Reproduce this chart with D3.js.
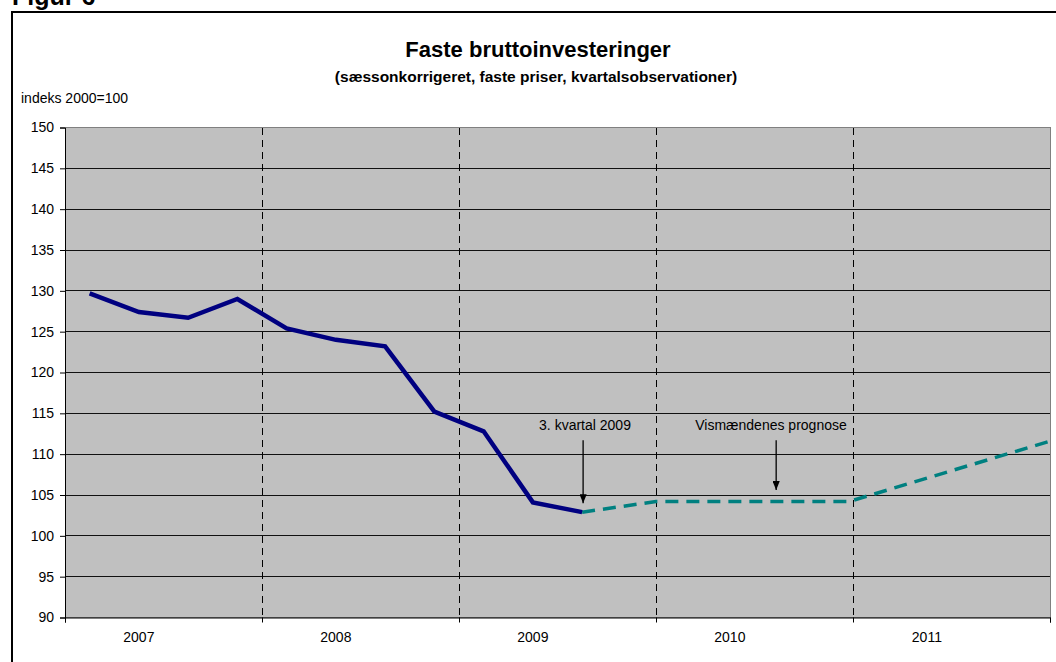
<!DOCTYPE html>
<html>
<head>
<meta charset="utf-8">
<script src="https://cdn.jsdelivr.net/npm/d3@7"></script>
<style>
  body { margin: 0; background: #fff; }
  svg { display: block; font-family: Arial, "Liberation Sans", sans-serif; }
</style>
</head>
<body>
<div id="chart"></div>
<script>
// data
var years = ["2007", "2008", "2009", "2010", "2011"];
var yTicks = [90, 95, 100, 105, 110, 115, 120, 125, 130, 135, 140, 145, 150];
// realiseret, kvartaler 2007K1 - 2009K3 (kvartalsindeks 0..10)
var actualQ = [0, 1, 2, 3, 4, 5, 6, 7, 8, 9, 10];
var actual = [129.7, 127.4, 126.7, 129.0, 125.4, 124.0, 123.2, 115.2, 112.8, 104.1, 102.9];
// prognose (position i kvartalsenheder)
var forecastQ = [10, 11.5, 15.42, 19.5];
var forecast = [102.9, 104.2, 104.2, 111.6];

var W = 1056, H = 662;
var svg = d3.select("#chart").append("svg").attr("width", W).attr("height", H);

var pLeft = 65, pRight = 1050, pTop = 127.5, pBottom = 617.5;
var x = d3.scaleLinear().domain([0, 20]).range([pLeft, pRight]);
var y = d3.scaleLinear().domain([90, 150]).range([pBottom, pTop]);
var qx = function(q) { return x(q + 0.5); };

// ramme
svg.append("rect").attr("x", 12).attr("y", 12).attr("width", 1100).attr("height", 700)
  .attr("fill", "none").attr("stroke", "#000").attr("stroke-width", 2);

svg.append("text").attr("x", 12).attr("y", 4.5).attr("font-size", 25).attr("font-weight", "bold").text("Figur 6");

svg.append("text").attr("x", 538).attr("y", 57).attr("text-anchor", "middle")
  .attr("font-size", 22).attr("font-weight", "bold").text("Faste bruttoinvesteringer");
svg.append("text").attr("x", 536).attr("y", 82).attr("text-anchor", "middle")
  .attr("font-size", 15.5).attr("font-weight", "bold").text("(sæssonkorrigeret, faste priser, kvartalsobservationer)");
svg.append("text").attr("x", 21).attr("y", 103).attr("font-size", 14).text("indeks 2000=100");

// plotområde
svg.append("rect").attr("x", pLeft).attr("y", pTop).attr("width", pRight - pLeft).attr("height", pBottom - pTop)
  .attr("fill", "#c0c0c0").attr("stroke", "#808080").attr("stroke-width", 1).attr("shape-rendering", "crispEdges");

// gitterlinjer
svg.append("g").selectAll("line").data(yTicks.filter(function(d) { return d > 90 && d < 150; }))
  .enter().append("line")
  .attr("x1", pLeft).attr("x2", pRight)
  .attr("y1", function(d) { return y(d); }).attr("y2", function(d) { return y(d); })
  .attr("stroke", "#111").attr("shape-rendering", "crispEdges");

// årsskel
svg.append("g").selectAll("line").data([4, 8, 12, 16]).enter().append("line")
  .attr("x1", function(d) { return x(d); }).attr("x2", function(d) { return x(d); })
  .attr("y1", pTop).attr("y2", pBottom)
  .attr("stroke", "#000").attr("stroke-dasharray", "7,5").attr("shape-rendering", "crispEdges");

// y-akse
var yAxis = svg.append("g").attr("transform", "translate(" + pLeft + ",0)")
  .call(d3.axisLeft(y).tickValues(yTicks).tickSize(5).tickPadding(6).tickFormat(d3.format("d")));
yAxis.select(".domain").attr("stroke", "#000");
yAxis.selectAll("text").attr("font-size", 14).attr("font-family", "Arial, 'Liberation Sans', sans-serif").attr("fill", "#000");
yAxis.selectAll("line").attr("stroke", "#000");

// x-akse
var xAxis = svg.append("g").attr("transform", "translate(0," + pBottom + ")")
  .call(d3.axisBottom(x).tickValues([0, 4, 8, 12, 16, 20]).tickSize(5).tickFormat(""));
xAxis.select(".domain").attr("stroke", "#000");
xAxis.selectAll("line").attr("stroke", "#000");

svg.append("g").selectAll("text").data(years).enter().append("text")
  .attr("x", function(d, i) { return x(i * 4 + 1.5); })
  .attr("y", 642).attr("text-anchor", "middle").attr("font-size", 14).text(function(d) { return d; });

// serier
var line = d3.line().x(function(d) { return qx(d[0]); }).y(function(d) { return y(d[1]); });

svg.append("path").datum(d3.zip(forecastQ, forecast)).attr("d", line)
  .attr("fill", "none").attr("stroke", "#008080").attr("stroke-width", 3.5)
  .attr("stroke-dasharray", "13,8");

svg.append("path").datum(d3.zip(actualQ, actual)).attr("d", line)
  .attr("fill", "none").attr("stroke", "#000080").attr("stroke-width", 4.5)
  .attr("stroke-linejoin", "miter");

// annoteringer
var notes = [
  { text: "3. kvartal 2009", q: 10.02, tx: 585, from: 111.7, to: 104.0 },
  { text: "Vismændenes prognose", q: 13.94, tx: 771, from: 111.7, to: 105.6 }
];
svg.append("defs").append("marker").attr("id", "arr").attr("viewBox", "0 0 10 8")
  .attr("refX", 10).attr("refY", 4).attr("markerWidth", 9).attr("markerHeight", 7.2)
  .attr("markerUnits", "userSpaceOnUse").attr("orient", "auto")
  .append("path").attr("d", "M0,0L10,4L0,8z").attr("fill", "#000");

var ng = svg.append("g").selectAll("g").data(notes).enter().append("g");
ng.append("text").attr("x", function(d) { return d.tx; }).attr("y", 430)
  .attr("text-anchor", "middle").attr("font-size", 14).text(function(d) { return d.text; });
ng.append("line")
  .attr("x1", function(d) { return qx(d.q); }).attr("x2", function(d) { return qx(d.q); })
  .attr("y1", function(d) { return y(d.from); }).attr("y2", function(d) { return y(d.to); })
  .attr("stroke", "#000").attr("stroke-width", 1.3).attr("marker-end", "url(#arr)");
</script>
</body>
</html>
